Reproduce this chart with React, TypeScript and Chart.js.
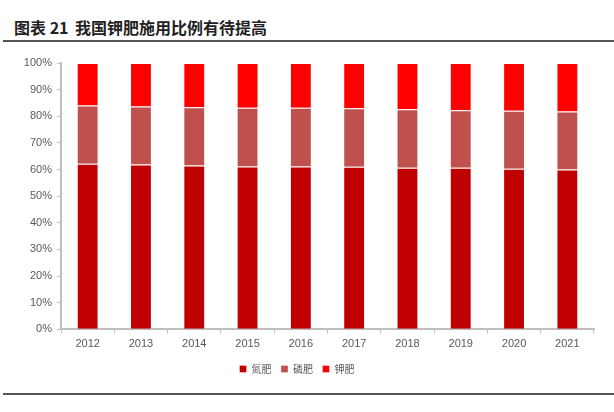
import React, { useEffect, useRef } from "react";
import { Chart, registerables } from "chart.js";

Chart.register(...registerables);

const years = ["2012", "2013", "2014", "2015", "2016", "2017", "2018", "2019", "2020", "2021"];
const nitrogen = [62.2, 61.9, 61.5, 61.1, 61.1, 61.0, 60.7, 60.7, 60.3, 60.0];
const phosphate = [21.8, 21.8, 21.9, 22.1, 22.1, 22.0, 21.9, 21.6, 21.8, 21.8];
const potash = [16.0, 16.3, 16.6, 16.8, 16.8, 17.0, 17.4, 17.7, 17.9, 18.2];
const seriesNames = ["氮肥", "磷肥", "钾肥"];
const seriesColors = ["#C00000", "#C0504D", "#FF0000"];

export default function App() {
  const ref = useRef<HTMLCanvasElement | null>(null);
  useEffect(() => {
    if (!ref.current) return;
    const tickFont = { family: "'Liberation Sans', Arial, sans-serif", size: 11 };
    const chart = new Chart(ref.current, {
      type: "bar",
      data: {
        labels: years,
        datasets: [nitrogen, phosphate, potash].map((d, i) => ({
          label: seriesNames[i],
          data: d,
          backgroundColor: seriesColors[i],
          borderColor: "rgba(255,255,255,0.35)",
          borderWidth: 1,
          barPercentage: 0.41,
          categoryPercentage: 1,
        })),
      },
      options: {
        animation: false,
        responsive: false,
        maintainAspectRatio: false,
        layout: { padding: { left: 0, right: 20, top: 18, bottom: 7 } },
        plugins: {
          legend: {
            position: "bottom",
            labels: {
              boxWidth: 7,
              boxHeight: 7,
              padding: 9.5,
              color: "#595959",
              font: { family: "'Noto Sans CJK SC', sans-serif", size: 10 },
            },
          },
          tooltip: { enabled: false },
          title: { display: false },
        },
        scales: {
          x: {
            stacked: true,
            grid: { drawOnChartArea: false, drawTicks: true, tickLength: 4, color: "#BFBFBF" },
            border: { display: true, color: "#BFBFBF", width: 2 },
            ticks: { color: "#595959", font: tickFont, padding: 4 },
          },
          y: {
            stacked: true,
            min: 0,
            max: 100,
            afterFit: (s: any) => {
              s.width = 61;
            },
            grid: { drawOnChartArea: false, drawTicks: true, tickLength: 4, color: "#BFBFBF" },
            border: { display: true, color: "#BFBFBF", width: 2 },
            ticks: {
              stepSize: 10,
              color: "#595959",
              font: tickFont,
              padding: 5,
              callback: (v: any) => v + "%",
            },
          },
        },
      },
    });
    return () => chart.destroy();
  }, []);

  return (
    <div style={{ position: "absolute", left: 0, top: 0, width: 614, height: 412, background: "#fff", overflow: "hidden" }}>
      <div
        style={{
          position: "absolute",
          left: 14,
          top: 17,
          fontFamily: "'Noto Sans CJK SC', sans-serif",
          fontWeight: 700,
          fontSize: 16,
          lineHeight: "20px",
          color: "#222",
          whiteSpace: "nowrap",
        }}
      >
        图表 21
      </div>
      <div
        style={{
          position: "absolute",
          left: 75,
          top: 17,
          fontFamily: "'Noto Sans CJK SC', sans-serif",
          fontWeight: 700,
          fontSize: 16,
          lineHeight: "20px",
          color: "#222",
          whiteSpace: "nowrap",
        }}
      >
        我国钾肥施用比例有待提高
      </div>
      <div style={{ position: "absolute", left: 3, right: 0, top: 40, height: 2, background: "#555" }} />
      <canvas ref={ref} width={614} height={346} style={{ position: "absolute", left: 0, top: 45 }} />
      <div style={{ position: "absolute", left: 3, right: 0, top: 393, height: 2, background: "#555" }} />
    </div>
  );
}
